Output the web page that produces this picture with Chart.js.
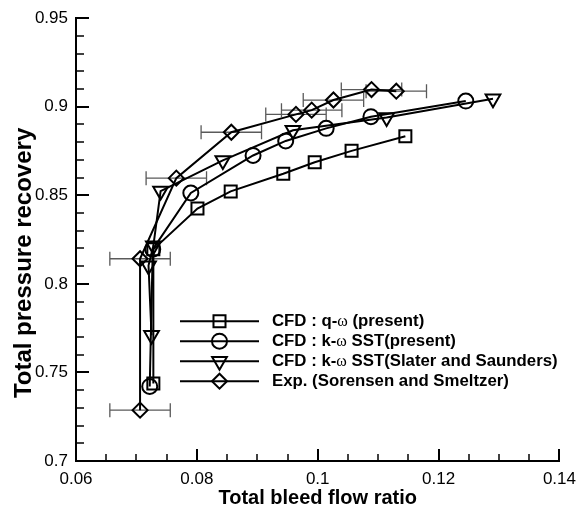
<!DOCTYPE html>
<html>
<head>
<meta charset="utf-8">
<script src="https://cdn.jsdelivr.net/npm/chart.js@4.4.1/dist/chart.umd.min.js"></script>
<style>
  html, body { margin: 0; padding: 0; background: #ffffff; }
  #wrap { width: 584px; height: 508px; position: relative; }
</style>
</head>
<body>
<div id="wrap"><canvas id="c" width="584" height="508"></canvas></div>
<script>
// ---- tick labels ----
const xTickValues = [0.06, 0.08, 0.10, 0.12, 0.14];
const xTickLabels = ['0.06', '0.08', '0.1', '0.12', '0.14'];
const yTickValues = [0.70, 0.75, 0.80, 0.85, 0.90, 0.95];
const yTickLabels = ['0.7', '0.75', '0.8', '0.85', '0.9', '0.95'];

// ---- series names ----
const seriesNames = [
  'CFD : q-ω (present)',
  'CFD : k-ω SST(present)',
  'CFD : k-ω SST(Slater and Saunders)',
  'Exp. (Sorensen and Smeltzer)'
];

// ---- CFD : q-omega (present) ----
const qwX = [0.0728, 0.0728, 0.0801, 0.0856, 0.0943, 0.0995, 0.1056, 0.1145];
const qwY = [0.7437, 0.8195, 0.8425, 0.8522, 0.8622, 0.8687, 0.8751, 0.8833];

// ---- CFD : k-omega SST (present) ----
const sstX = [0.0722, 0.0727, 0.0790, 0.0893, 0.0947, 0.1014, 0.1088, 0.1245];
const sstY = [0.7421, 0.8195, 0.8513, 0.8725, 0.8807, 0.8878, 0.8944, 0.9032];

// ---- CFD : k-omega SST (Slater and Saunders) ----
const ssX = [0.0725, 0.0720, 0.0728, 0.0740, 0.0843, 0.0959, 0.1114, 0.1290];
const ssY = [0.7710, 0.8103, 0.8215, 0.8524, 0.8697, 0.8867, 0.8940, 0.9045];

// ---- Experiment (Sorensen and Smeltzer) ----
const expX = [0.0706, 0.0706, 0.0766, 0.0857, 0.0964, 0.0990, 0.1026, 0.1089, 0.1130];
const expY = [0.7287, 0.8142, 0.8597, 0.8856, 0.8957, 0.8981, 0.9038, 0.9097, 0.9088];
const expXErr = [0.005, 0.005, 0.005, 0.005, 0.005, 0.005, 0.005, 0.005, 0.005];

const pts = (xs, ys) => xs.map((x, i) => ({ x: x, y: ys[i] }));

const markerStyles = [
  { pointStyle: 'rect', radius: 8.5, rotation: 0 },
  { pointStyle: 'circle', radius: 7.5, rotation: 0 },
  { pointStyle: 'triangle', radius: 8.5, rotation: 180 },
  { pointStyle: 'rectRot', radius: 7.5, rotation: 0 }
];
const seriesData = [pts(qwX, qwY), pts(sstX, sstY), pts(ssX, ssY), pts(expX, expY)];

const datasets = seriesData.map((d, i) => ({
  label: seriesNames[i],
  data: d,
  showLine: true,
  borderColor: '#000000',
  borderWidth: 2,
  backgroundColor: 'rgba(0,0,0,0)',
  pointStyle: markerStyles[i].pointStyle,
  pointRadius: markerStyles[i].radius,
  pointHoverRadius: markerStyles[i].radius,
  pointRotation: markerStyles[i].rotation,
  pointBorderColor: '#000000',
  pointBorderWidth: 2,
  pointBackgroundColor: 'rgba(0,0,0,0)',
  tension: 0
}));

const FONT = "'Liberation Sans', Arial, sans-serif";

// error bars for the experiment
const errorBars = {
  id: 'errorBars',
  beforeDatasetsDraw(chart) {
    const ctx = chart.ctx, xs = chart.scales.x, ys = chart.scales.y;
    ctx.save();
    ctx.strokeStyle = '#5a5a5a';
    ctx.lineWidth = 1.3;
    const cap = 7;
    expX.forEach((x, i) => {
      const py = ys.getPixelForValue(expY[i]);
      const x0 = xs.getPixelForValue(x - expXErr[i]);
      const x1 = xs.getPixelForValue(x + expXErr[i]);
      ctx.beginPath();
      ctx.moveTo(x0, py); ctx.lineTo(x1, py);
      ctx.moveTo(x0, py - cap); ctx.lineTo(x0, py + cap);
      ctx.moveTo(x1, py - cap); ctx.lineTo(x1, py + cap);
      ctx.stroke();
    });
    ctx.restore();
  }
};

// inward major / minor ticks
const innerTicks = {
  id: 'innerTicks',
  afterDraw(chart) {
    const ctx = chart.ctx, xs = chart.scales.x, ys = chart.scales.y;
    const area = chart.chartArea;
    ctx.save();
    ctx.strokeStyle = '#000000';
    // x axis
    const xMin = xs.min, xMax = xs.max;
    const nx = Math.round((xMax - xMin) / 0.005);
    for (let i = 0; i <= nx; i++) {
      const v = xMin + i * 0.005;
      const major = i % 4 === 0;
      const px = Math.round(xs.getPixelForValue(v));
      ctx.lineWidth = major ? 2 : 1.5;
      ctx.beginPath();
      ctx.moveTo(px, area.bottom);
      ctx.lineTo(px, area.bottom - (major ? 12 : 7));
      ctx.stroke();
    }
    // y axis
    const yMin = ys.min, yMax = ys.max;
    const ny = Math.round((yMax - yMin) / 0.01);
    for (let i = 0; i <= ny; i++) {
      const v = yMin + i * 0.01;
      const major = i % 5 === 0;
      const py = Math.round(ys.getPixelForValue(v));
      ctx.lineWidth = major ? 2 : 1.5;
      ctx.beginPath();
      ctx.moveTo(area.left, py);
      ctx.lineTo(area.left + (major ? 13 : 8), py);
      ctx.stroke();
    }
    ctx.restore();
  }
};

function drawMarker(ctx, style, x, y) {
  if (Chart.helpers && Chart.helpers.drawPoint) {
    Chart.helpers.drawPoint(ctx, { pointStyle: style.pointStyle, radius: style.radius, rotation: style.rotation, borderWidth: 2 }, x, y);
    return;
  }
  const r = style.radius;
  ctx.beginPath();
  if (style.pointStyle === 'circle') ctx.arc(x, y, r, 0, Math.PI * 2);
  else if (style.pointStyle === 'rect') { const s = r * Math.SQRT1_2; ctx.rect(x - s, y - s, 2 * s, 2 * s); }
  else if (style.pointStyle === 'triangle') { ctx.moveTo(x, y + r); ctx.lineTo(x - r * 0.866, y - r / 2); ctx.lineTo(x + r * 0.866, y - r / 2); ctx.closePath(); }
  else { ctx.moveTo(x - r, y); ctx.lineTo(x, y - r); ctx.lineTo(x + r, y); ctx.lineTo(x, y + r); ctx.closePath(); }
  ctx.stroke();
}

// legend inside the plot
const innerLegend = {
  id: 'innerLegend',
  afterDatasetsDraw(chart) {
    const ctx = chart.ctx;
    const area = chart.chartArea;
    const lx0 = area.left + 104, lx1 = area.left + 183, mx = area.left + 143.5;
    const tx = area.left + 196;
    const y0 = area.top + 303, dy = 20;
    ctx.save();
    seriesNames.forEach((name, i) => {
      const y = y0 + i * dy;
      ctx.strokeStyle = '#000000';
      ctx.fillStyle = 'rgba(0,0,0,0)';
      ctx.lineWidth = 2;
      ctx.beginPath();
      ctx.moveTo(lx0, y); ctx.lineTo(lx1, y);
      ctx.stroke();
      drawMarker(ctx, markerStyles[i], mx, y);
      // text with serif omega
      ctx.fillStyle = '#000000';
      ctx.textBaseline = 'middle';
      ctx.textAlign = 'left';
      const parts = name.split('ω');
      let x = tx;
      parts.forEach((p, k) => {
        ctx.font = "bold 16.8px " + FONT;
        ctx.fillText(p, x, y);
        x += ctx.measureText(p).width;
        if (k < parts.length - 1) {
          ctx.font = "16px 'Liberation Serif', 'Times New Roman', serif";
          ctx.fillText('ω', x, y + 1);
          x += ctx.measureText('ω').width;
        }
      });
    });
    ctx.restore();
  }
};

new Chart(document.getElementById('c'), {
  type: 'scatter',
  data: { datasets: datasets },
  plugins: [errorBars, innerTicks, innerLegend],
  options: {
    responsive: false,
    animation: false,
    devicePixelRatio: 1,
    layout: { padding: { left: 0, right: 24, top: 16, bottom: 0 } },
    plugins: {
      legend: { display: false },
      tooltip: { enabled: false }
    },
    scales: {
      x: {
        type: 'linear',
        position: 'bottom',
        min: 0.06, max: 0.14,
        afterBuildTicks(scale) { scale.ticks = xTickValues.map(v => ({ value: v })); },
        afterFit(scale) { scale.height = 47; },
        grid: { display: false, drawTicks: false },
        border: { display: true, color: '#000000', width: 2 },
        ticks: {
          autoSkip: false, maxRotation: 0, padding: 8,
          color: '#000000',
          font: { family: FONT, size: 17 },
          callback: (v, i) => xTickLabels[i]
        },
        title: {
          display: true,
          text: 'Total bleed flow ratio',
          color: '#000000',
          font: { family: FONT, size: 20, weight: 'bold', lineHeight: 1 },
          padding: { top: 0, bottom: 0 }
        }
      },
      y: {
        type: 'linear',
        position: 'left',
        min: 0.7, max: 0.95,
        afterBuildTicks(scale) { scale.ticks = yTickValues.map(v => ({ value: v })); },
        afterFit(scale) { scale.width = 76; },
        grid: { display: false, drawTicks: false },
        border: { display: true, color: '#000000', width: 2 },
        ticks: {
          autoSkip: false, padding: 8,
          color: '#000000',
          font: { family: FONT, size: 17 },
          callback: (v, i) => yTickLabels[i]
        },
        title: {
          display: true,
          text: 'Total pressure recovery       ',
          color: '#000000',
          font: { family: FONT, size: 24, weight: 'bold', lineHeight: 1.2 },
          padding: { top: 10, bottom: 0 }
        }
      }
    }
  }
});
</script>
</body>
</html>
